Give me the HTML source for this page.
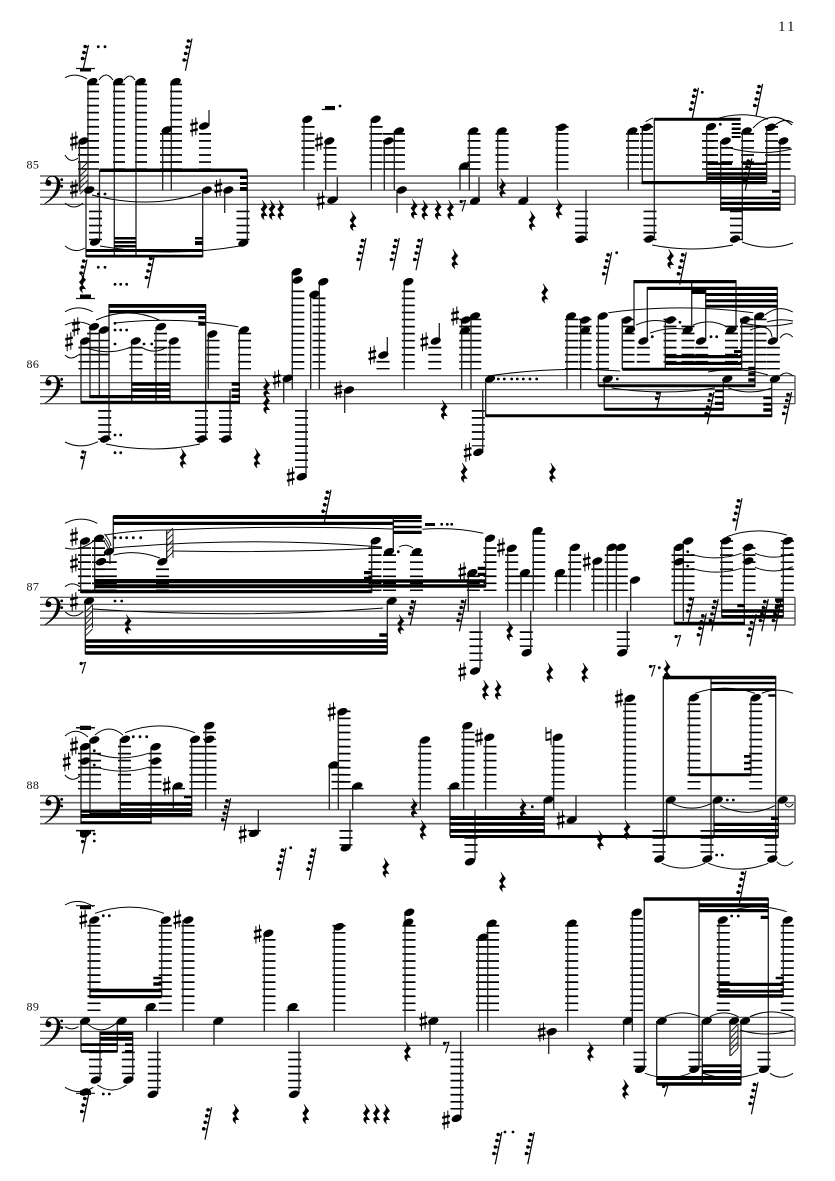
<!DOCTYPE html>
<html><head><meta charset="utf-8"><style>
html,body{margin:0;padding:0;background:#fff}
svg{display:block}
text{font-family:"Liberation Serif",serif;fill:#111}
.st{stroke:#444;stroke-width:1.2;fill:none}
.sm{stroke:#222;stroke-width:1.3;fill:none}
.sl{stroke:#000;stroke-width:1;fill:none}
.ld{stroke:#000;fill:none;stroke-dasharray:1.7 5.35}
.dt{stroke:#000;stroke-width:2.8;stroke-linecap:round;fill:none}
.ht{stroke:#222;stroke-width:1;fill:none}
</style></head><body>
<svg xmlns="http://www.w3.org/2000/svg" width="835" height="1181" viewBox="0 0 835 1181">
<defs>
<ellipse id="n" rx="5.4" ry="3.4" transform="rotate(-22)" fill="#000"/>
<g id="s" fill="none" stroke="#000"><path stroke-width="1" d="M-1.8-8V9.5M1.8-9.5V8"/><path stroke-width="2.4" d="M-3.8-2.2L3.8-4.2M-3.8 4.2L3.8 2.2"/></g>
<path id="r" fill="#000" stroke="#000" stroke-width=".5" d="M-2-9.8L3-3C1-1 0 0 0 2L3 6C0 5-2 6 0 9.8C-4 7-4 3-.5 3L-3.5-1C-1.5-3-.5-4-.5-6Z"/>
<g id="q"><path stroke="#000" stroke-width="1.2" d="M4.3-16L-2.3 16.3M.7-13.5L3.6-13M-.6-7.5L2.4-7M-2.1-1L1-.5M-3.6 5.5L-.4 6" fill="none"/><circle cx=".7" cy="-13.5" r="1.8"/><circle cx="-.6" cy="-7.5" r="1.8"/><circle cx="-2.1" cy="-1" r="1.8"/><circle cx="-3.6" cy="5.5" r="1.8"/></g>
<g id="t"><path stroke="#000" stroke-width="1.2" d="M3-12.5L-2.5 12.5M-.3-11L2.6-10.5M-1.6-5L1.4-4.5M-3 1L0 1.5" fill="none"/><circle cx="-.3" cy="-11" r="1.8"/><circle cx="-1.6" cy="-5" r="1.8"/><circle cx="-3" cy="1" r="1.8"/></g>
<g id="f"><path stroke="#000" stroke-width="1.2" d="M2.6-9L-1.6 9.5M-.4-8L2.4-8M-1.4-2.5L1.2-2.5" fill="none"/><circle cx="-.4" cy="-8" r="1.7"/><circle cx="-1.4" cy="-2.5" r="1.7"/></g>
<g id="e"><path stroke="#000" stroke-width="1.1" d="M-2.2-3.5L2.2-4.5L-1.2 6.5" fill="none"/><circle cx="-2.2" cy="-3.5" r="1.6"/></g>
<g id="c"><path d="M46 7C45 2 50-.5 53-.3C58 0 60.5 4 60.5 8C60.5 17 52 24 45 28L44.5 27.3C51 23 56.8 16 56.8 7C56.8 3 55 .8 52.5.8C50 .8 48 2 47.6 4Z"/><circle cx="48.4" cy="7" r="3"/><circle cx="61.7" cy="3.6" r="1.4"/><circle cx="61.7" cy="10.3" r="1.4"/></g>
</defs>

<text x="778" y="31" font-size="15" letter-spacing="2">11</text>
<g font-size="12" letter-spacing=".4">
<text x="26.5" y="168.5">85</text><text x="26.5" y="368">86</text><text x="26.5" y="590.5">87</text><text x="26.5" y="789">88</text><text x="26.5" y="1010.5">89</text>
</g>

<!-- staves -->
<path class="st" d="M40 176H795M40 183.1H795M40 190.2H795M40 197.2H795M40 204.3H795M795 176V204.3
M40 375.7H795M40 382.7H795M40 389.7H795M40 396.7H795M40 403.7H795M795 375.7V403.7
M40 597.3H795M40 604.3H795M40 611.2H795M40 618.1H795M40 625H795M795 597.3V625"/>
<path class="st" style="stroke:#666;stroke-width:1.6" d="M40 795.7H795M40 802.7H795M40 809.7H795M40 816.7H795M40 823.7H795M795 795.7V823.7"/>
<path class="st" d="M40 1017.3H795M40 1024.3H795M40 1031.3H795M40 1038.3H795M40 1045.3H795M795 1017.3V1045.3"/>
<use href="#c" y="176"/><use href="#c" y="375.7"/><use href="#c" y="597.3"/><use href="#c" y="795.7"/><use href="#c" y="1017.3"/>

<!-- ledger lines -->
<g class="ld">
<path stroke-width="12" d="M93 83.6V169.7M119 83.6V169.7M141 83.6V169.7M176 83.6V169.7M84 147V169.7M205 133V169.7M708 133V169.7"/>
<path stroke-width="13" d="M166.5 133V169.7M95.5 210.6V240.3M243 210.6V240.3M308 126V169.7M330 147V169.7M376 126V169.7M474 133V169.7M502 133V169.7M562 126V169.7M581.5 210.6V240.3M632.5 133V169.7M646.5 126V169.7M650 210.6V240.3M711.5 133V169.7M726.5 147V169.7M736.5 210.6V240.3M747.5 133V169.7M771.5 126V169.7M784 147V169.7"/>
<path stroke-width="22" d="M394 133V169.7M469.5 168.2V169.7"/>
<!-- staff 2 -->
<path stroke-width="13" d="M85 346.8V369.4M93.6 332.7V369.4M103.3 339.7V369.4M136 346.8V369.4M160.5 332.7V369.4M174 346.8V369.4M213 339.7V369.4M244.5 332.7V369.4M104.7 410V439.7M201.5 410V439.7M225.5 410V439.7M297.8 290.5V369.4M319 297.5V369.4M301.5 410V467.9M383 360.9V369.4M408.3 290.5V369.4M434.8 346.8V369.4M571.5 318.6V369.4M585 318.6V369.4M602.5 325.6V369.4M628 318.6V369.4M643.3 346.8V369.4M670 318.6V369.4M688 325.6V369.4M701.7 346.8V369.4M731.5 325.6V369.4M746.5 318.6V369.4M760 318.6V369.4M773.3 346.8V369.4M478.3 410V446.4"/>
<path stroke-width="22" d="M470.3 318.6V369.4"/>
<!-- staff 3 -->
<path stroke-width="13" d="M84.5 547.2V591M98.5 540.2V591M162.5 568.4V591M375 547.2V591M389.5 554.3V591M416.5 554.3V591M490 547.2V591M473.3 575.4V591M511.7 554.3V591M538.7 533.1V591M561 575.4V591M574.7 554.3V591M597.8 568.4V591M726.5 540.2V591M749 547.2V591M787.3 540.2V591M476 631.3V661M526.3 631.3V646.9M623.3 631.3V646.9"/>
<path stroke-width="21" d="M106.3 561.3V591M527.5 575.4V591"/>
<path stroke-width="23" d="M616.3 554.3V591M683 554.3V591"/>
<!-- staff 4 -->
<path stroke-width="13" d="M124.5 745.7V789.4M155 752.7V789.4M344 710.5V789.4M357 787.9V789.4M178.5 787.9V789.4M254.3 830V831.5M346 830V845.6M424.7 745.7V789.4M454 787.9V789.4M468 731.6V789.4M490 745.7V789.4M558 745.7V789.4M629.7 703.4V789.4M694 703.4V789.4M755.7 703.4V789.4M471 837V852.6M659 830V852.6M707 830V852.6M771 830V852.6"/>
<path stroke-width="23" d="M89.5 752.7V789.4"/>
<path stroke-width="27" d="M203 745.7V789.4"/>
<path stroke-width="13" d="M209.5 731.6V739.8M338 766.8V789.4"/>
<path stroke-width="19" d="M85.5 829.9V831.4M85.5 727V728.5"/>
<!-- staff 5 -->
<path stroke-width="13" d="M94 924.9V1011M165.3 924.9V1011M188 924.9V1011M269 939V1011M339 924.9V1011M409 924.9V1011M151 1009.5V1011M292.8 1009.5V1011M95.5 1051.6V1074.3M128.3 1051.6V1074.3M154.3 1051.6V1088.4M294.7 1051.6V1088.4M457 1051.6V1109.5M571.7 924.9V1011M636.7 917.9V1011M640 1051.6V1067.2M695 1051.6V1067.2M764 1051.6V1067.2M723.3 924.9V1011M787.3 924.9V1011"/>
<path stroke-width="23" d="M487.5 939V1011"/>
<path stroke-width="13" d="M492.8 924.9V939"/>
</g>

<!-- stems -->
<path class="sm" d="M88 81V170M114.3 81V257M136 81V257M171.3 81V190M162.7 130V190M209 110V126M79.3 141V190M86 190V257M99.5 170V240M202.7 190V257M224.7 190V213M247.3 170V240M304 119V190M325.7 141V190M337.3 177V200M371.3 119V190M384.3 141V190M394.3 131V190M397 190V213M460 166V190M469.3 131V190M479 177V201M497.7 131V190M527.3 177V201M557.3 127V190M586 190V239M628.3 131V190M642.3 127V183M654.3 118V238M706.7 127V182M720.7 141V211M742.3 131V239M766.7 127V182M780 141V211
M81 341V403M90 327V397M99.3 330V397M109 304V438M131.7 341V403M156 327V403M170 341V403M205.7 304V438M208.3 334V389M239.3 330V403M230 390V438M283.7 378V403M292.3 272V389M310.7 294V389M319.3 282V389M306 389V478M344.7 390V413M387.3 337V355M404.3 282V389M439.3 323V341M461.7 320V389M471 316V389M567 316V389M580.7 320V389M598.3 316V386M622.3 320V369M634 280V330M647.3 287V341M665.3 320V369M691.7 280V330M705.7 287V341M736 280V330M741.7 320V369M755 316V387M777.3 287V341M485.7 379V417M482.7 390V453M604.3 379V410M723.3 379V410M771.7 379V417
M80.7 541V593M94.7 538V593M113.3 516V551M110 551V564M166.7 530V561M393.3 516V552M371.7 540V593M85.3 601V654M387.3 601V654M485.7 538V587M468.3 573V611M480 611V669M507.7 548V611M521 573V611M533.3 531V611M530.7 611V650M556.7 573V611M570.3 547V611M593.7 561V611M607.3 547V611M616.3 547V611M630.7 580V611M627.3 611V650M674.3 547V624M683.3 541V621M721.7 541V617M744.3 547V622M783.3 541V617
M81 747V824M90 740V816M120.3 739V815M151 747V824M191.7 739V816M205.7 726V809.7M173.3 786V808M258.3 810V833M329.3 765V809.7M338.3 712V809.7M352.7 786V810M350 810V845M420.3 740V809.7M450 786V836M463.7 726V809.7M485.7 737V809.7M475 809.7V860M544.3 800V838M553.7 737V809.7M576 796V820M625.3 698V809.7M663.3 676V858M711 676V858M689.3 698V775M751 698V775M775.7 676V858M666.7 800V838M714 800V838M778.3 800V838
M90 920V997M161.7 920V997M183 920V1031M264.3 933V1031M334.3 927V1031M405 912V1031M146.7 1007V1031M157.7 1031V1094M214 1021V1045M288.3 1007V1031M299 1031V1094M81 1021V1052M117.3 1021V1052M100 1032V1080M132.7 1032V1080M430 1021V1045M460.7 1031V1118M478.3 937V1031M487.7 923V1031M567.7 923V1031M548.7 1032V1054M623.7 1021V1045M632.3 912V1031M644.3 898V1068M699 898V1068M768.3 898V1068M719 920V997M783.3 920V997M656.7 1021V1085M702.3 1021V1085M730 1021V1056M741 1021V1085"/>

<!-- beams -->
<path fill="#000" d="M99.5 168.5H247.3V172H99.5ZM240 176H247.3V179H240ZM240 182H247.3V185H240ZM240 187H247.3V191H240ZM86 249H202.7V252H86ZM86 254.7H202.7V257.5H86ZM114.3 237H136V239.5H114.3ZM114.3 241H136V243.5H114.3ZM114.3 245H136V247.5H114.3ZM195 237H202.7V239.5H195ZM195 241H202.7V245H195Z
M654.3 117.7H740.7V120.7H654.3ZM641.7 181H766.7V184.3H641.7ZM731.7 123H740.7V125H731.7ZM731.7 127.5H740.7V130H731.7ZM731.7 132H740.7V134H731.7ZM731.7 136H740.7V138H731.7ZM707.3 162.5H732V165H707.3ZM742 162.5H766.7V165H742ZM707.3 167.7H766.7V170H707.3ZM707.3 172.3H766.7V175H707.3ZM707.3 176.7H766.7V180H707.3ZM772 190H780V192.7H772ZM720.7 196.7H780V199.3H720.7ZM720.7 201.7H780V205H720.7ZM720.7 207.3H780V210.7H720.7Z
M109 304H205.7V307.7H109ZM109 310H205.7V313.3H109ZM198.3 316H205.7V319.3H198.3ZM198.3 321.7H205.7V325.7H198.3ZM81 400.7H240V403.7H81ZM89.3 395H131.7V398.3H89.3ZM131.7 382.3H170V385.7H131.7ZM131.7 388.3H170V391.7H131.7ZM131.7 395H170V398.3H131.7ZM231.7 382.3H240V385.7H231.7ZM231.7 388.3H240V391.7H231.7ZM231.7 394.5H240V398H231.7Z
M622.3 367.7H741.7V370.7H622.3ZM634 280H736V283.3H634ZM647.3 286.7H777.3V290H647.3ZM691.7 290H705.7V294H691.7ZM705.7 293H777.3V296H705.7ZM705.7 299.3H777.3V302.3H705.7ZM705.7 304.7H777.3V307.7H705.7ZM665.3 355H741.7V358.3H665.3ZM665.3 361.7H741.7V365H665.3ZM734 350H741.7V353H734ZM485.7 414.3H771.7V417.3H485.7ZM598.3 384.3H755V387.3H598.3ZM604.3 407.7H723.3V410.7H604.3ZM748.3 366.7H755V370H748.3ZM748.3 372.3H755V375.7H748.3ZM748.3 378.3H755V381.7H748.3ZM715 390H723.3V392.3H715ZM715 396H723.3V398.3H715ZM715 401.7H723.3V405H715ZM763.3 396.7H771.7V399.3H763.3ZM763.3 402.7H771.7V405.7H763.3ZM763.3 408.3H771.7V411.7H763.3Z
M113.3 515H421.7V519H113.3ZM113.3 521.7H393.3V525H113.3ZM393.3 520H421.7V522.3H393.3ZM393.3 525.7H421.7V528.3H393.3ZM393.3 530.7H421.7V534H393.3ZM80.7 590H371.7V593.3H80.7ZM94.7 579H371.7V583.3H94.7ZM94.7 584.3H371.7V588.3H94.7ZM364 571H371.7V574.3H364ZM364 576.7H371.7V580H364ZM371.7 579.3H485.7V582.7H371.7ZM371.7 584.3H485.7V587.7H371.7ZM477.7 566.7H485.7V570H477.7ZM477.7 572.7H485.7V576H477.7ZM85.3 639.3H387.3V642.7H85.3ZM85.3 645H387.3V648.3H85.3ZM85.3 651.3H387.3V654.7H85.3ZM379.3 633.3H387.3V636.7H379.3ZM425 523H435V526H425ZM674.3 621.7H745V625H674.3ZM721.7 609.3H783.3V612.7H721.7ZM721.7 615H783.3V618.3H721.7ZM737.3 604H745V607.3H737.3ZM775 598.3H783.3V601.7H775ZM775 604H783.3V607.3H775Z
M80.7 821.3H151.7V824H80.7ZM80.7 814H151.7V818H80.7ZM90 813H191.7V816.7H90ZM120 802.3H191.7V805.7H120ZM120 808.3H191.7V811.7H120ZM81 810H120V812.7H81ZM184 796H191.7V798.3H184ZM450 816H544.3V820H450ZM450 822.3H544.3V825.7H450ZM450 829H544.3V832.7H450ZM450 835H778.3V838H450ZM663.3 675.7H775.7V679.3H663.3ZM711 681.7H775.7V684.3H711ZM711 688.3H775.7V691H711ZM768.3 694.3H775.7V696.7H768.3ZM689.3 773.3H751V776.3H689.3ZM744 755H751V757.7H744ZM744 761.7H751V764.3H744ZM744 767.7H751V770.3H744ZM714 822.7H778.3V826H714ZM714 829H778.3V832.3H714ZM771 816.7H778.3V820H771Z
M89.3 988.7H161.7V992.3H89.3ZM89.3 995H161.7V998.3H89.3ZM153.3 976.7H161.7V979.3H153.3ZM153.3 982.3H161.7V985.7H153.3ZM81 1043.3H117.3V1046H81ZM81 1050H117.3V1052.7H81ZM100 1031.7H132.7V1035H100ZM100 1036.7H132.7V1040.7H100ZM125 1043.3H132.7V1046H125ZM125 1050H132.7V1052.7H125ZM643.3 897.3H768.3V900.7H643.3ZM699 903.3H768.3V907.3H699ZM699 909H768.3V912.3H699ZM760.7 915.7H768.3V919H760.7ZM719 982.7H783.3V986H719ZM719 989.8H783.3V992.6H719ZM719 994.3H783.3V997.7H719ZM775.7 976.7H783.3V979.3H775.7ZM656.7 1076H741V1080H656.7ZM656.7 1082.3H741V1085.7H656.7ZM702 1064.3H741V1067.3H702ZM702 1070H741V1073.3H702Z
M80 68H91V71.5H80ZM325 106H335V110H325ZM80 294.5H91V298H80ZM80 725.7H91V730H80ZM80 830.7H91V834H80ZM80 906H91V909.3H80ZM80 1090.5H91V1095H80Z"/>
<path stroke="#111" stroke-width="1.2" d="M76 68.5H95M321.7 109.5H335M76 298.5H95M76 727.7H95M76 830.7H95M76 905.7H95M76 1093.3H95"/>

<!-- hatch flags -->
<path class="ht" d="M80 170L88 162M80 176L88 168M80 182L88 174M80 188L88 180M80 194L88 186M80 162V192M88 162V190
M104.5 534Q110 540 111 546M104.5 538Q109 544 110.5 550M104.5 542Q108 547 110 553
M167 534L173 528M167 540L173 534M167 546L173 540M167 552L173 546M167 558L173 552M173 530V558
M85.5 612L92.5 605M85.5 618L92.5 611M85.5 624L92.5 617M85.5 630L92.5 623M85.5 636L92.5 629M92.5 605V628
M730.5 1032L738 1024M730.5 1038L738 1030M730.5 1044L738 1036M730.5 1050L738 1042M730.5 1056L738 1048M738 1024V1048"/>

<!-- slurs -->
<path class="sl" d="M65 77.7Q76 72 87 79M99 80Q106 70 113 80M124 80Q130 72 135 80M65 155Q70 164 78 158M92 195Q150 210 201 193M65 203Q74 211 83 203M65 246Q75 254 85 248M100 246Q170 258 240 246M645.7 121.7Q650 119 653 118M713 120Q740 110 768 119M775 125Q785 117 793 123M753 128Q772 108 792 125M726 147Q760 157 792 149M652 245Q693 253 733 245M742 242Q768 252 793 243
M65 311.7Q78 304 92.7 311.7M96 320Q128 306 159.3 320M115 323Q176 316 238.3 326.7M65 325Q78 319 90 325M65 355Q71 361 78 355M87 348Q109 356 131 347M141.7 347.3Q154 355 166.7 347.3M65 442Q81 450 98 441.7M106 444Q153 454 200 444M488 376Q554 366 620 371M608.3 312.7Q680 303 753.3 312.7M765 315Q778 304 792.7 312M611.7 388Q663 396 715 388M728.3 388Q750 396 771.7 388M780 338Q786 330 792.7 337M780 376Q786 370 793 376M708 372Q738 366 768 375M693.3 325Q710 318 726.7 326.7M636 325Q652 318 667 322M650 333Q670 326 690 330M743 323Q768 329 792.7 323M750 330Q770 322 772 337M767 322Q780 318 793 321
M65 523.3Q81 515 97.3 523.3M105 535Q135 530 166.7 530M167 530Q280 525 393 529M113 548Q250 536 382 547M172 551Q280 553 382 548M113.3 555Q136 549 160 558M399 547Q406 543 413 548M65 586.7Q72 581 80 586.7M65 548Q80 552 95 540M65 611.7Q74 620 83 611.7M93 609Q240 619 383 608M422.3 529.3Q455 527 483.3 533.3M726.7 536.7Q756 526 786.7 535M691.7 554.3Q716 562 741.7 553.3M691.7 568.3Q716 576 741.7 568.3M755 553.3Q774 561 792.7 553.3M755 567.3Q774 575 792.7 566.7
M65 736Q76 726 88 737M95 735Q109 723 123 735M125 732.7Q160 719 195 732.7M96.7 754Q122 762 148.3 753.3M96.7 767.3Q122 775 148.3 767.3M65 775Q72 783 80 776M671.7 803.3Q692 813 711.7 803.3M720 805.7Q748 819 775 805.7M785 804Q789 810 793 804M661.7 863.3Q683 873 705 863.3M708.3 863.3Q738 875 768.3 863.3M776.7 861.7Q785 870 793 861.7M695 693.3Q725 683 755 693.3M761.7 693.3Q777 687 793 693.3
M65 905Q79 897 93.3 906.7M95 913.3Q130 901 164 913.3M65 1026.7Q72 1031 78.3 1026.7M86 1022.7Q101 1037 116.7 1022.7M65 1087.3Q79 1096 93.3 1087.3M97.3 1085Q112 1095 126.7 1085M665 1016.7Q682 1009 700 1016.7M710 1016.7Q724 1009 738.3 1016.7M750 1016.7Q771 1007 793 1016.7M740 1030Q766 1038 793 1030M645 1073.3Q668 1082 690 1073.3M702 1073Q730 1083 758.3 1073M770 1073.3Q781 1081 793 1073.3M728 911.7Q757 902 786.7 911.7"/>

<!-- dots -->
<path class="dt" d="M98.3 46.7h0M105 46.7h0M98.3 194h0M105 194h0M340 106h0M720.3 124.3h0M702.3 92.3h0M616.7 252.7h0M98.3 267.3h0M105 267.3h0M115 284.3h0M120.7 284.3h0M126.7 284.3h0M115 435h0M120.7 435h0M115 452.7h0M120.7 452.7h0M115 323.3h0M115 330h0M120.7 330h0M126.7 330h0M115 344h0M144 344h0M151.7 344h0M652.3 336.7h0M680 322.3h0M711 336.7h0M716.7 336.7h0M498.3 379h0M504.3 379h0M511.7 379h0M517.3 379h0M523.3 379h0M530 379h0M536.7 379h0M617.3 379h0M115 537.7h0M120.7 537.7h0M126.7 537.7h0M133.3 537.7h0M140.7 537.7h0M115 601h0M121.7 601h0M398.3 551.7h0M441.7 524.3h0M447.3 524.3h0M451.7 524.3h0M687.7 551.7h0M687.7 566h0M659.3 667.7h0M94.3 750.7h0M94.3 765h0M133.3 736.7h0M140 736.7h0M146.7 736.7h0M94.3 834h0M94.3 841h0M290.7 847.7h0M532.3 806.7h0M727.3 800h0M733.3 800h0M716.7 855h0M722.3 855h0M103.3 915.7h0M109.3 915.7h0M103.3 1094h0M109.3 1094h0M731.7 916h0M738.3 916h0M505 1132h0M513 1132h0"/>

<!-- noteheads -->
<g id="notes">
<use href="#n" x="92.3" y="81.7"/><use href="#n" x="118.3" y="81.7"/><use href="#n" x="140.7" y="81.7"/><use href="#n" x="175.7" y="81.7"/><use href="#n" x="166.7" y="130"/><use href="#n" x="204" y="126"/><use href="#n" x="83.3" y="141"/><use href="#n" x="89.3" y="190"/><use href="#n" x="95" y="242"/><use href="#n" x="206.7" y="190"/><use href="#n" x="228.3" y="190"/><use href="#n" x="243.3" y="243"/><use href="#n" x="307.3" y="119.3"/><use href="#n" x="329.3" y="141"/><use href="#n" x="332.3" y="200"/><use href="#n" x="375.7" y="119.3"/><use href="#n" x="388.3" y="141"/><use href="#n" x="399" y="131"/><use href="#n" x="401.7" y="190"/><use href="#n" x="475" y="201"/><use href="#n" x="464.3" y="166"/><use href="#n" x="473.3" y="131"/><use href="#n" x="501.7" y="131"/><use href="#n" x="523.3" y="201"/><use href="#n" x="561.7" y="127.3"/><use href="#n" x="580.7" y="239.3"/><use href="#n" x="632.3" y="131"/><use href="#n" x="646.7" y="127.3"/><use href="#n" x="649.3" y="239"/><use href="#n" x="711" y="126.7"/><use href="#n" x="725.7" y="141"/><use href="#n" x="746.7" y="131"/><use href="#n" x="735" y="239"/><use href="#n" x="770.7" y="127.3"/><use href="#n" x="783.3" y="141"/>
<use href="#n" x="94" y="326.7"/><use href="#n" x="104" y="330"/><use href="#n" x="85" y="341"/><use href="#n" x="135.7" y="341"/><use href="#n" x="161" y="326.7"/><use href="#n" x="173.7" y="341"/><use href="#n" x="212.3" y="334"/><use href="#n" x="244" y="330"/><use href="#n" x="105" y="439"/><use href="#n" x="201.7" y="439"/><use href="#n" x="226" y="439"/><use href="#n" x="287.7" y="378.3"/><use href="#n" x="296.7" y="271.7"/><use href="#n" x="297.7" y="280"/><use href="#n" x="314.3" y="294.3"/><use href="#n" x="323.3" y="281.7"/><use href="#n" x="301.7" y="476.7"/><use href="#n" x="349" y="390"/><use href="#n" x="383.3" y="355"/><use href="#n" x="408.3" y="281.7"/><use href="#n" x="435.7" y="341"/><use href="#n" x="465.7" y="320"/><use href="#n" x="465" y="330.7"/><use href="#n" x="475" y="316"/><use href="#n" x="571" y="316"/><use href="#n" x="585" y="320"/><use href="#n" x="585" y="330.7"/><use href="#n" x="602.7" y="316"/><use href="#n" x="626.7" y="320"/><use href="#n" x="630" y="330"/><use href="#n" x="643.3" y="341"/><use href="#n" x="670.7" y="320"/><use href="#n" x="687.7" y="330"/><use href="#n" x="701" y="341"/><use href="#n" x="731" y="330"/><use href="#n" x="745" y="320"/><use href="#n" x="759.3" y="316"/><use href="#n" x="772.7" y="341"/><use href="#n" x="490" y="379"/><use href="#n" x="478.3" y="452.3"/><use href="#n" x="607.7" y="379"/><use href="#n" x="727.3" y="379"/><use href="#n" x="775" y="379"/>
<use href="#n" x="85" y="541"/><use href="#n" x="99" y="538.3"/><use href="#n" x="109" y="551.7"/><use href="#n" x="101" y="561.7"/><use href="#n" x="162.3" y="561.7"/><use href="#n" x="375.7" y="540.7"/><use href="#n" x="389" y="551.7"/><use href="#n" x="416.7" y="551.7"/><use href="#n" x="89" y="601"/><use href="#n" x="391.7" y="601"/><use href="#n" x="490" y="538.3"/><use href="#n" x="472.3" y="572.7"/><use href="#n" x="475" y="671"/><use href="#n" x="511.7" y="548.3"/><use href="#n" x="525" y="572.7"/><use href="#n" x="537.7" y="530.7"/><use href="#n" x="526.7" y="652.7"/><use href="#n" x="560" y="572.7"/><use href="#n" x="575" y="547.3"/><use href="#n" x="597.3" y="561"/><use href="#n" x="611.7" y="547.3"/><use href="#n" x="621" y="547.3"/><use href="#n" x="635" y="580"/><use href="#n" x="622.3" y="652.7"/><use href="#n" x="679" y="547.3"/><use href="#n" x="688.3" y="541"/><use href="#n" x="679" y="561.7"/><use href="#n" x="726" y="540.7"/><use href="#n" x="748.3" y="547.3"/><use href="#n" x="748.3" y="561"/><use href="#n" x="787.7" y="540.7"/>
<use href="#n" x="94.3" y="740"/><use href="#n" x="85" y="746.7"/><use href="#n" x="85" y="761"/><use href="#n" x="125" y="739.3"/><use href="#n" x="155.7" y="746.7"/><use href="#n" x="155.7" y="761"/><use href="#n" x="195" y="739.3"/><use href="#n" x="209.3" y="725.7"/><use href="#n" x="209.3" y="739.3"/><use href="#n" x="177.7" y="786"/><use href="#n" x="85" y="834"/><use href="#n" x="254" y="833.3"/><use href="#n" x="333.3" y="765"/><use href="#n" x="342.3" y="711.7"/><use href="#n" x="357.3" y="786"/><use href="#n" x="345.7" y="847.7"/><use href="#n" x="425" y="740"/><use href="#n" x="454.3" y="786"/><use href="#n" x="467.3" y="725.7"/><use href="#n" x="489.3" y="737.3"/><use href="#n" x="470" y="861.7"/><use href="#n" x="548.3" y="800"/><use href="#n" x="557.7" y="737.3"/><use href="#n" x="571.7" y="820"/><use href="#n" x="630" y="698.3"/><use href="#n" x="659.3" y="859"/><use href="#n" x="707.3" y="859"/><use href="#n" x="694" y="697.7"/><use href="#n" x="755.7" y="697.7"/><use href="#n" x="772.3" y="859"/><use href="#n" x="670.7" y="800"/><use href="#n" x="717.7" y="800"/><use href="#n" x="782.7" y="800"/>
<use href="#n" x="94.3" y="920"/><use href="#n" x="165.7" y="920"/><use href="#n" x="188.3" y="920"/><use href="#n" x="268.3" y="933.3"/><use href="#n" x="339" y="926.7"/><use href="#n" x="409.3" y="912.3"/><use href="#n" x="408.3" y="922.3"/><use href="#n" x="150.7" y="1006.7"/><use href="#n" x="152.7" y="1094.3"/><use href="#n" x="218.3" y="1021"/><use href="#n" x="292.7" y="1006.7"/><use href="#n" x="294" y="1094.3"/><use href="#n" x="85" y="1021"/><use href="#n" x="121.7" y="1021"/><use href="#n" x="95.7" y="1080"/><use href="#n" x="128.3" y="1080"/><use href="#n" x="85" y="1092"/><use href="#n" x="433.3" y="1021"/><use href="#n" x="456.7" y="1118.3"/><use href="#n" x="482.7" y="937.3"/><use href="#n" x="491.7" y="923.3"/><use href="#n" x="571.7" y="923.3"/><use href="#n" x="551.7" y="1031.7"/><use href="#n" x="627.7" y="1021"/><use href="#n" x="636.7" y="912.3"/><use href="#n" x="640" y="1069.3"/><use href="#n" x="694.3" y="1069.3"/><use href="#n" x="764" y="1069.3"/><use href="#n" x="722.7" y="920"/><use href="#n" x="787.7" y="920"/><use href="#n" x="661.7" y="1021"/><use href="#n" x="706.7" y="1021"/><use href="#n" x="734" y="1021"/><use href="#n" x="745" y="1021"/>
</g>

<!-- sharps -->
<g>
<use href="#s" x="74" y="141"/><use href="#s" x="74" y="189"/><use href="#s" x="194" y="127"/><use href="#s" x="218.3" y="188"/><use href="#s" x="319" y="141.7"/><use href="#s" x="320.7" y="200.7"/>
<use href="#s" x="76" y="326.7"/><use href="#s" x="69" y="341.7"/><use href="#s" x="276.7" y="379.3"/><use href="#s" x="290.7" y="476.7"/><use href="#s" x="338.3" y="390"/><use href="#s" x="372.3" y="355"/><use href="#s" x="424.3" y="341.7"/><use href="#s" x="455" y="316"/><use href="#s" x="467.7" y="452.3"/>
<use href="#s" x="74" y="536.7"/><use href="#s" x="74" y="563.3"/><use href="#s" x="74" y="601.7"/><use href="#s" x="462.3" y="571.7"/><use href="#s" x="462.3" y="671.7"/><use href="#s" x="501" y="547.3"/><use href="#s" x="586.7" y="561.7"/>
<use href="#s" x="74" y="746"/><use href="#s" x="66.7" y="761.7"/><use href="#s" x="166.7" y="786"/><use href="#s" x="242.7" y="834"/><use href="#s" x="331.7" y="711.7"/><use href="#s" x="479" y="737.3"/><use href="#s" x="560.7" y="820"/><use href="#s" x="619" y="698.3"/>
<use href="#s" x="83.3" y="919.3"/><use href="#s" x="177.3" y="919.3"/><use href="#s" x="257.7" y="934"/><use href="#s" x="423.3" y="1021"/><use href="#s" x="446" y="1120"/><use href="#s" x="541.7" y="1032.3"/>
</g>
<!-- natural -->
<path fill="none" stroke="#000" d="M546 727V741M551 729V745"/><path fill="none" stroke="#000" stroke-width="2" d="M546 733L551 732M546 740L551 739"/>

<!-- quarter rests -->
<g>
<use href="#r" x="264.3" y="210"/><use href="#r" x="272.3" y="210"/><use href="#r" x="281" y="210"/><use href="#r" x="353.3" y="221"/><use href="#r" x="414.3" y="209"/><use href="#r" x="425" y="210"/><use href="#r" x="438.3" y="210"/><use href="#r" x="450.7" y="210"/><use href="#r" x="502.7" y="188"/><use href="#r" x="532.3" y="220.7"/><use href="#r" x="559.3" y="209"/><use href="#r" x="455" y="259"/><use href="#r" x="545" y="293.3"/><use href="#r" x="670.7" y="259"/>
<use href="#r" x="82.7" y="283"/><use href="#r" x="183.3" y="458.3"/><use href="#r" x="257.3" y="458.3"/><use href="#r" x="266.7" y="388"/><use href="#r" x="266.7" y="404"/><use href="#r" x="444.3" y="410"/><use href="#r" x="464.3" y="472.7"/><use href="#r" x="552.7" y="472.7"/>
<use href="#r" x="128.3" y="624.3"/><use href="#r" x="401" y="624.3"/><use href="#r" x="510" y="631"/><use href="#r" x="550" y="672.7"/><use href="#r" x="585" y="672.7"/><use href="#r" x="485.7" y="690"/><use href="#r" x="498.3" y="690"/><use href="#r" x="667.3" y="670"/>
<use href="#r" x="386" y="867.7"/><use href="#r" x="414.3" y="808"/><use href="#r" x="423.3" y="830"/><use href="#r" x="502.7" y="881.7"/><use href="#r" x="523.3" y="808.3"/><use href="#r" x="600.7" y="840"/><use href="#r" x="627.3" y="830"/>
<use href="#r" x="407.7" y="1051.7"/><use href="#r" x="236" y="1114"/><use href="#r" x="306" y="1114"/><use href="#r" x="366.7" y="1114"/><use href="#r" x="376.7" y="1114"/><use href="#r" x="386.7" y="1114"/><use href="#r" x="590.7" y="1051.7"/><use href="#r" x="625.7" y="1089.3"/>
</g>

<!-- short rests -->
<g>
<use href="#q" x="187.7" y="54.5"/><use href="#t" x="85.5" y="57.5"/><use href="#q" x="361.7" y="254"/><use href="#q" x="395" y="254"/><use href="#q" x="418.3" y="254"/><use href="#q" x="694.2" y="103.7"/><use href="#q" x="758.3" y="100"/><use href="#q" x="747.5" y="174.5"/><use href="#q" x="607.3" y="268.3"/><use href="#q" x="682" y="268.3"/>
<use href="#t" x="84" y="272"/><use href="#q" x="150" y="272"/><use href="#q" x="326.7" y="505.7"/><use href="#q" x="709.7" y="408"/><use href="#q" x="787.3" y="408"/>
<use href="#t" x="412.7" y="612.7"/><use href="#q" x="461.7" y="615"/><use href="#t" x="690.7" y="610"/><use href="#q" x="702" y="629.3"/><use href="#q" x="714" y="615"/><use href="#q" x="752" y="630"/><use href="#q" x="764" y="615"/><use href="#q" x="777" y="615"/><use href="#q" x="737.7" y="514.3"/>
<use href="#q" x="226.3" y="814.3"/><use href="#q" x="281.7" y="863.7"/><use href="#q" x="311.7" y="863.7"/><use href="#q" x="741.7" y="886.7"/>
<use href="#q" x="85.3" y="1106"/><use href="#q" x="207.3" y="1123.3"/><use href="#q" x="753.7" y="1098"/><use href="#q" x="497.5" y="1148"/><use href="#q" x="530" y="1148"/>
<use href="#e" x="463.3" y="205"/><use href="#f" x="83.3" y="460"/><use href="#f" x="658" y="401"/><use href="#e" x="83.3" y="667"/><use href="#e" x="678.3" y="640"/><use href="#e" x="652.7" y="670"/><use href="#f" x="84" y="844"/><use href="#e" x="446.7" y="1046.7"/><use href="#e" x="665.7" y="1090"/>
</g>
</svg>
</body></html>
